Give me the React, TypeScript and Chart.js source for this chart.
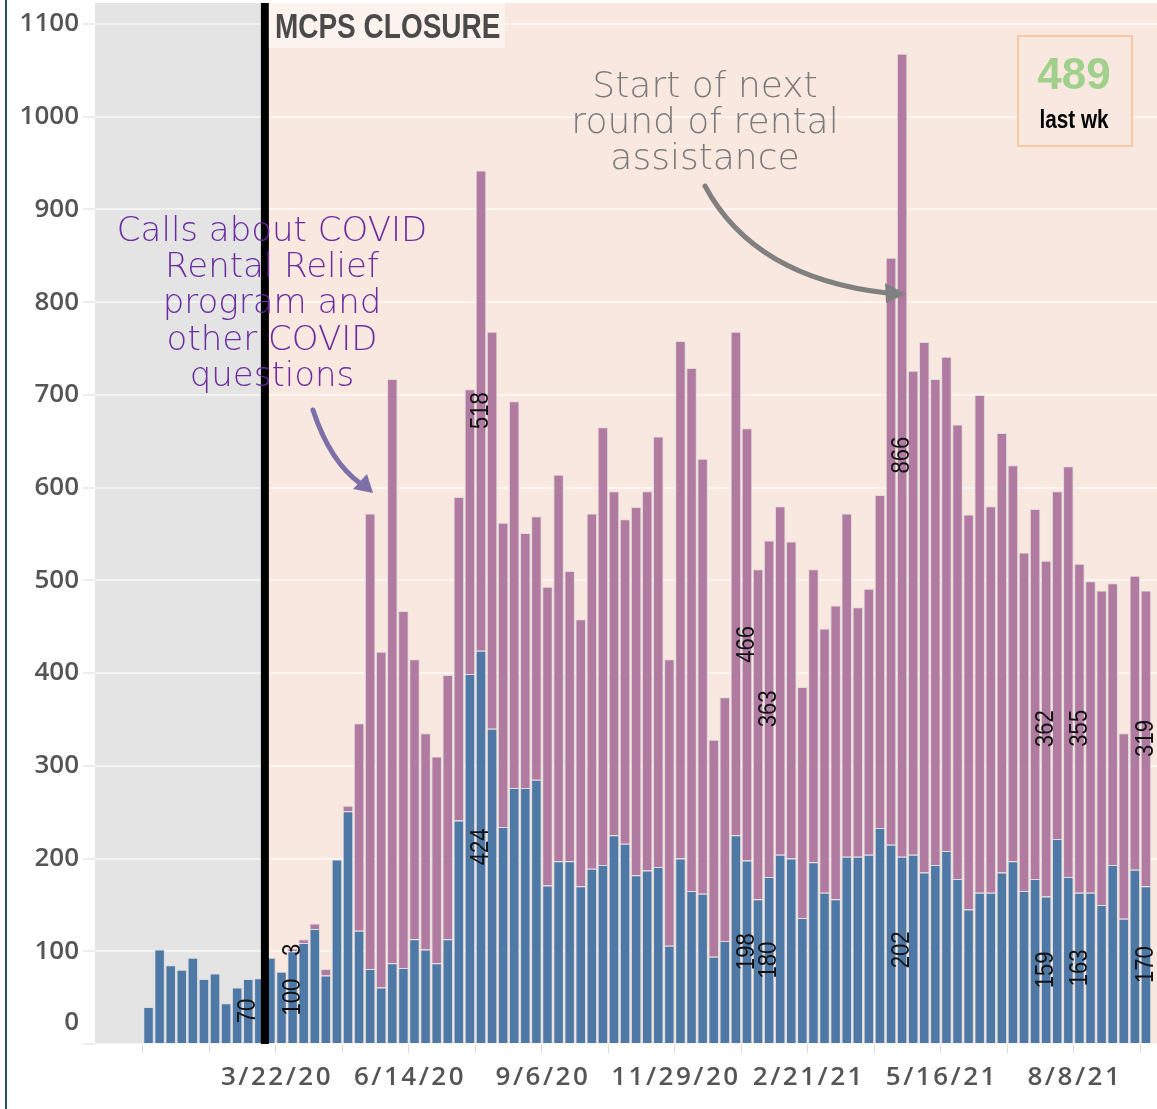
import React, { useEffect, useRef } from 'react';
import { Chart, registerables } from 'chart.js';

Chart.register(...registerables);

// Weekly calls; first bar = week of 12/29/19, last bar = week of 9/19/21
const otherCalls: number[] = [
  40, 102, 85, 80, 93, 70, 76, 44, 61, 70,
  71, 93, 78, 100, 109, 124, 74, 199, 251, 122,
  81, 61, 87, 82, 113, 102, 87, 113, 241, 399,
  424, 340, 234, 276, 276, 285, 171, 197, 197, 170,
  189, 193, 225, 216, 182, 187, 191, 106, 200, 165,
  162, 94, 111, 225, 198, 156, 180, 204, 200, 136,
  196, 163, 156, 202, 202, 204, 233, 215, 202, 204,
  185, 193, 208, 178, 145, 163, 163, 185, 197, 165,
  178, 159, 221, 180, 163, 163, 150, 193, 135, 188,
  170,
];
const covidCalls: number[] = [
  0, 0, 0, 0, 0, 0, 0, 0, 0, 0,
  0, 0, 0, 3, 4, 6, 7, 0, 6, 224,
  491, 362, 630, 385, 302, 233, 223, 285, 349, 307,
  518, 428, 328, 417, 275, 284, 322, 417, 313, 288,
  383, 472, 371, 350, 397, 409, 464, 309, 558, 564,
  469, 234, 263, 543, 466, 356, 363, 376, 342, 249,
  316, 285, 317, 370, 269, 287, 359, 633, 866, 522,
  572, 524, 533, 490, 426, 537, 417, 474, 427, 365,
  399, 362, 375, 443, 355, 336, 339, 304, 200, 317,
  319,
];
const xTickMarkWeeks: number[] = [0, 6, 12, 18, 24, 30, 36, 42, 48, 54, 60, 66, 72, 78, 84, 90];
const xLabelWeeks: number[] = [12, 24, 36, 48, 60, 72, 84];
const xLabels: string[] = ['3/22/20', '6/14/20', '9/6/20', '11/29/20', '2/21/21', '5/16/21', '8/8/21'];
const yTickValues: number[] = [0, 100, 200, 300, 400, 500, 600, 700, 800, 900, 1000, 1100];
const closureWeek = 11;
const labeledWeeks: number[] = [9, 13, 30, 54, 56, 68, 81, 84, 90];
const covidNote: string[] = ['Calls about COVID', 'Rental Relief', 'program and', 'other COVID', 'questions'];
const rentalNote: string[] = ['Start of next', 'round of rental', 'assistance'];

const W = 1157;
const H = 1109;
const BLUE = '#4e79a7';
const PURPLE = '#b07aa1';
const PINK = '#f9e8e0';
const GREY_BG = '#e4e4e4';

function drawText(
  ctx: CanvasRenderingContext2D,
  text: string,
  x: number,
  y: number,
  font: string,
  color: string,
  sx = 1,
  align: CanvasTextAlign = 'center',
  baseline: CanvasTextBaseline = 'middle',
  rotate = 0,
) {
  ctx.save();
  ctx.translate(x, y);
  if (rotate) ctx.rotate(rotate);
  ctx.scale(sx, 1);
  ctx.font = font;
  ctx.fillStyle = color;
  ctx.textAlign = align;
  ctx.textBaseline = baseline;
  ctx.fillText(text, 0, 0);
  ctx.restore();
}

const decorPlugin = {
  id: 'decor',
  beforeDraw(chart: any) {
    const { ctx, chartArea: a, scales } = chart;
    const cx = scales.x.getPixelForValue(closureWeek);
    ctx.save();
    ctx.fillStyle = '#ffffff';
    ctx.fillRect(0, 0, W, H);
    ctx.fillStyle = GREY_BG;
    ctx.fillRect(a.left, a.top, cx - a.left, a.bottom - a.top);
    ctx.fillStyle = PINK;
    ctx.fillRect(cx, a.top, a.right - cx, a.bottom - a.top);
    ctx.restore();
  },
  afterDatasetsDraw(chart: any) {
    const { ctx, chartArea: a, scales } = chart;
    const cx = scales.x.getPixelForValue(closureWeek);
    ctx.save();
    ctx.fillStyle = '#000000';
    ctx.fillRect(cx - 4, a.top, 8, a.bottom - a.top);
    ctx.fillStyle = '#fcf3ef';
    ctx.fillRect(cx + 4, a.top, 236, 45);
    ctx.restore();
    drawText(ctx, 'MCPS CLOSURE', cx + 10, 38, 'bold 35px "Liberation Sans", Arial, sans-serif', '#4a4a4a', 0.8, 'left', 'alphabetic');

    labeledWeeks.forEach((w) => {
      [0, 1].forEach((d) => {
        const val = d === 0 ? otherCalls[w] : covidCalls[w];
        if (!val) return;
        const el = chart.getDatasetMeta(d).data[w];
        if (!el) return;
        const p = el.getProps(['x', 'y', 'base'], true);
        const cy = (p.y + p.base) / 2;
        drawText(ctx, String(val), p.x, cy, '26px "Liberation Sans", Arial, sans-serif', '#111111', 0.85, 'center', 'middle', -Math.PI / 2);
      });
    });
  },
  afterDraw(chart: any) {
    const { ctx, scales } = chart;
    const ys = scales.y;
    const xs = scales.x;
    ctx.save();
    ctx.font = '600 26px "Open Sans", sans-serif';
    ctx.fillStyle = '#555555';
    ctx.textAlign = 'right';
    ctx.textBaseline = 'middle';
    yTickValues.forEach((v) => {
      let py = ys.getPixelForValue(v);
      if (v === 0) py -= 21;
      ctx.fillText(String(v), 79, py);
    });
    ctx.textAlign = 'center';
    (ctx as any).letterSpacing = '2.5px';
    xLabelWeeks.forEach((w, k) => {
      ctx.fillText(xLabels[k], xs.getPixelForValue(w) + 1, 1078);
    });
    (ctx as any).letterSpacing = '0px';
    ctx.restore();

    covidNote.forEach((t, k) => {
      drawText(ctx, t, 272, 232 + k * 36.3, '200 34px "DejaVu Sans", sans-serif', '#6a2c9e');
    });
    ctx.save();
    ctx.strokeStyle = '#7d70a8';
    ctx.fillStyle = '#7d70a8';
    ctx.lineWidth = 5;
    ctx.lineCap = 'round';
    ctx.beginPath();
    ctx.moveTo(313, 410);
    ctx.quadraticCurveTo(330, 462, 361, 484);
    ctx.stroke();
    ctx.beginPath();
    ctx.moveTo(373, 493);
    ctx.lineTo(353, 489);
    ctx.lineTo(367, 474);
    ctx.closePath();
    ctx.fill();
    ctx.restore();

    rentalNote.forEach((t, k) => {
      drawText(ctx, t, 705, 88 + k * 36, '200 36px "DejaVu Sans", sans-serif', '#7a7a7a');
    });
    ctx.save();
    ctx.strokeStyle = '#808080';
    ctx.fillStyle = '#808080';
    ctx.lineWidth = 5;
    ctx.lineCap = 'round';
    ctx.beginPath();
    ctx.moveTo(705, 186);
    ctx.bezierCurveTo(735, 242, 790, 282, 887, 293);
    ctx.stroke();
    ctx.beginPath();
    ctx.moveTo(906, 294);
    ctx.lineTo(885, 283);
    ctx.lineTo(886, 303);
    ctx.closePath();
    ctx.fill();
    ctx.restore();

    const last = otherCalls.length - 1;
    const lastTotal = otherCalls[last] + covidCalls[last];
    ctx.save();
    ctx.fillStyle = PINK;
    ctx.fillRect(1018, 36, 114, 110);
    ctx.strokeStyle = '#f8c9a6';
    ctx.lineWidth = 2;
    ctx.strokeRect(1018, 36, 114, 110);
    ctx.restore();
    drawText(ctx, String(lastTotal), 1074, 77, 'bold 44px "Liberation Sans", Arial, sans-serif', '#a0d08c');
    drawText(ctx, 'last wk', 1074, 121, 'bold 25px "Liberation Sans", Arial, sans-serif', '#000000', 0.83);

    ctx.save();
    ctx.fillStyle = '#24506d';
    ctx.fillRect(5, 0, 2, H);
    ctx.restore();
  },
};

export default function App() {
  const ref = useRef<HTMLCanvasElement>(null);
  useEffect(() => {
    document.body.style.margin = '0';
    const canvas = ref.current;
    if (!canvas) return;
    const chart = new Chart(canvas, {
      type: 'bar',
      data: {
        datasets: [
          {
            label: 'Other calls',
            data: otherCalls.map((v, i) => ({ x: i + 0.5, y: v })),
            backgroundColor: BLUE,
            borderColor: '#dcdcdc',
            borderWidth: 1,
            stack: 'calls',
          },
          {
            label: 'COVID rental relief calls',
            data: covidCalls.map((v, i) => ({ x: i + 0.5, y: v })),
            backgroundColor: PURPLE,
            borderColor: '#dcdcdc',
            borderWidth: 1,
            stack: 'calls',
          },
        ],
      },
      options: {
        responsive: false,
        animation: false,
        devicePixelRatio: 1,
        layout: { padding: { top: 3, right: 0, left: 0, bottom: 0 } },
        datasets: { bar: { barPercentage: 0.95, categoryPercentage: 1 } },
        plugins: { legend: { display: false }, tooltip: { enabled: false } },
        scales: {
          x: {
            type: 'linear',
            offset: false,
            min: -4.33,
            max: 91.5,
            afterFit: (s: any) => { s.height = 65; },
            afterBuildTicks: (s: any) => { s.ticks = xTickMarkWeeks.map((v) => ({ value: v })); },
            grid: { offset: false, drawOnChartArea: false, drawTicks: true, tickLength: 9, tickColor: '#dadada', lineWidth: 1 },
            border: { display: false },
            ticks: { display: false },
          },
          y: {
            stacked: true,
            min: 0,
            max: 1122.6,
            afterFit: (s: any) => { s.width = 95; },
            afterBuildTicks: (s: any) => { s.ticks = yTickValues.map((v) => ({ value: v })); },
            grid: { color: 'rgba(255,255,255,0.55)', lineWidth: 2, tickLength: 12, tickColor: '#ececec', drawTicks: true },
            border: { display: false },
            ticks: { display: false },
          },
        },
      } as any,
      plugins: [decorPlugin],
    });
    return () => chart.destroy();
  }, []);
  return <canvas ref={ref} width={W} height={H} style={{ display: 'block', width: W, height: H }} />;
}
